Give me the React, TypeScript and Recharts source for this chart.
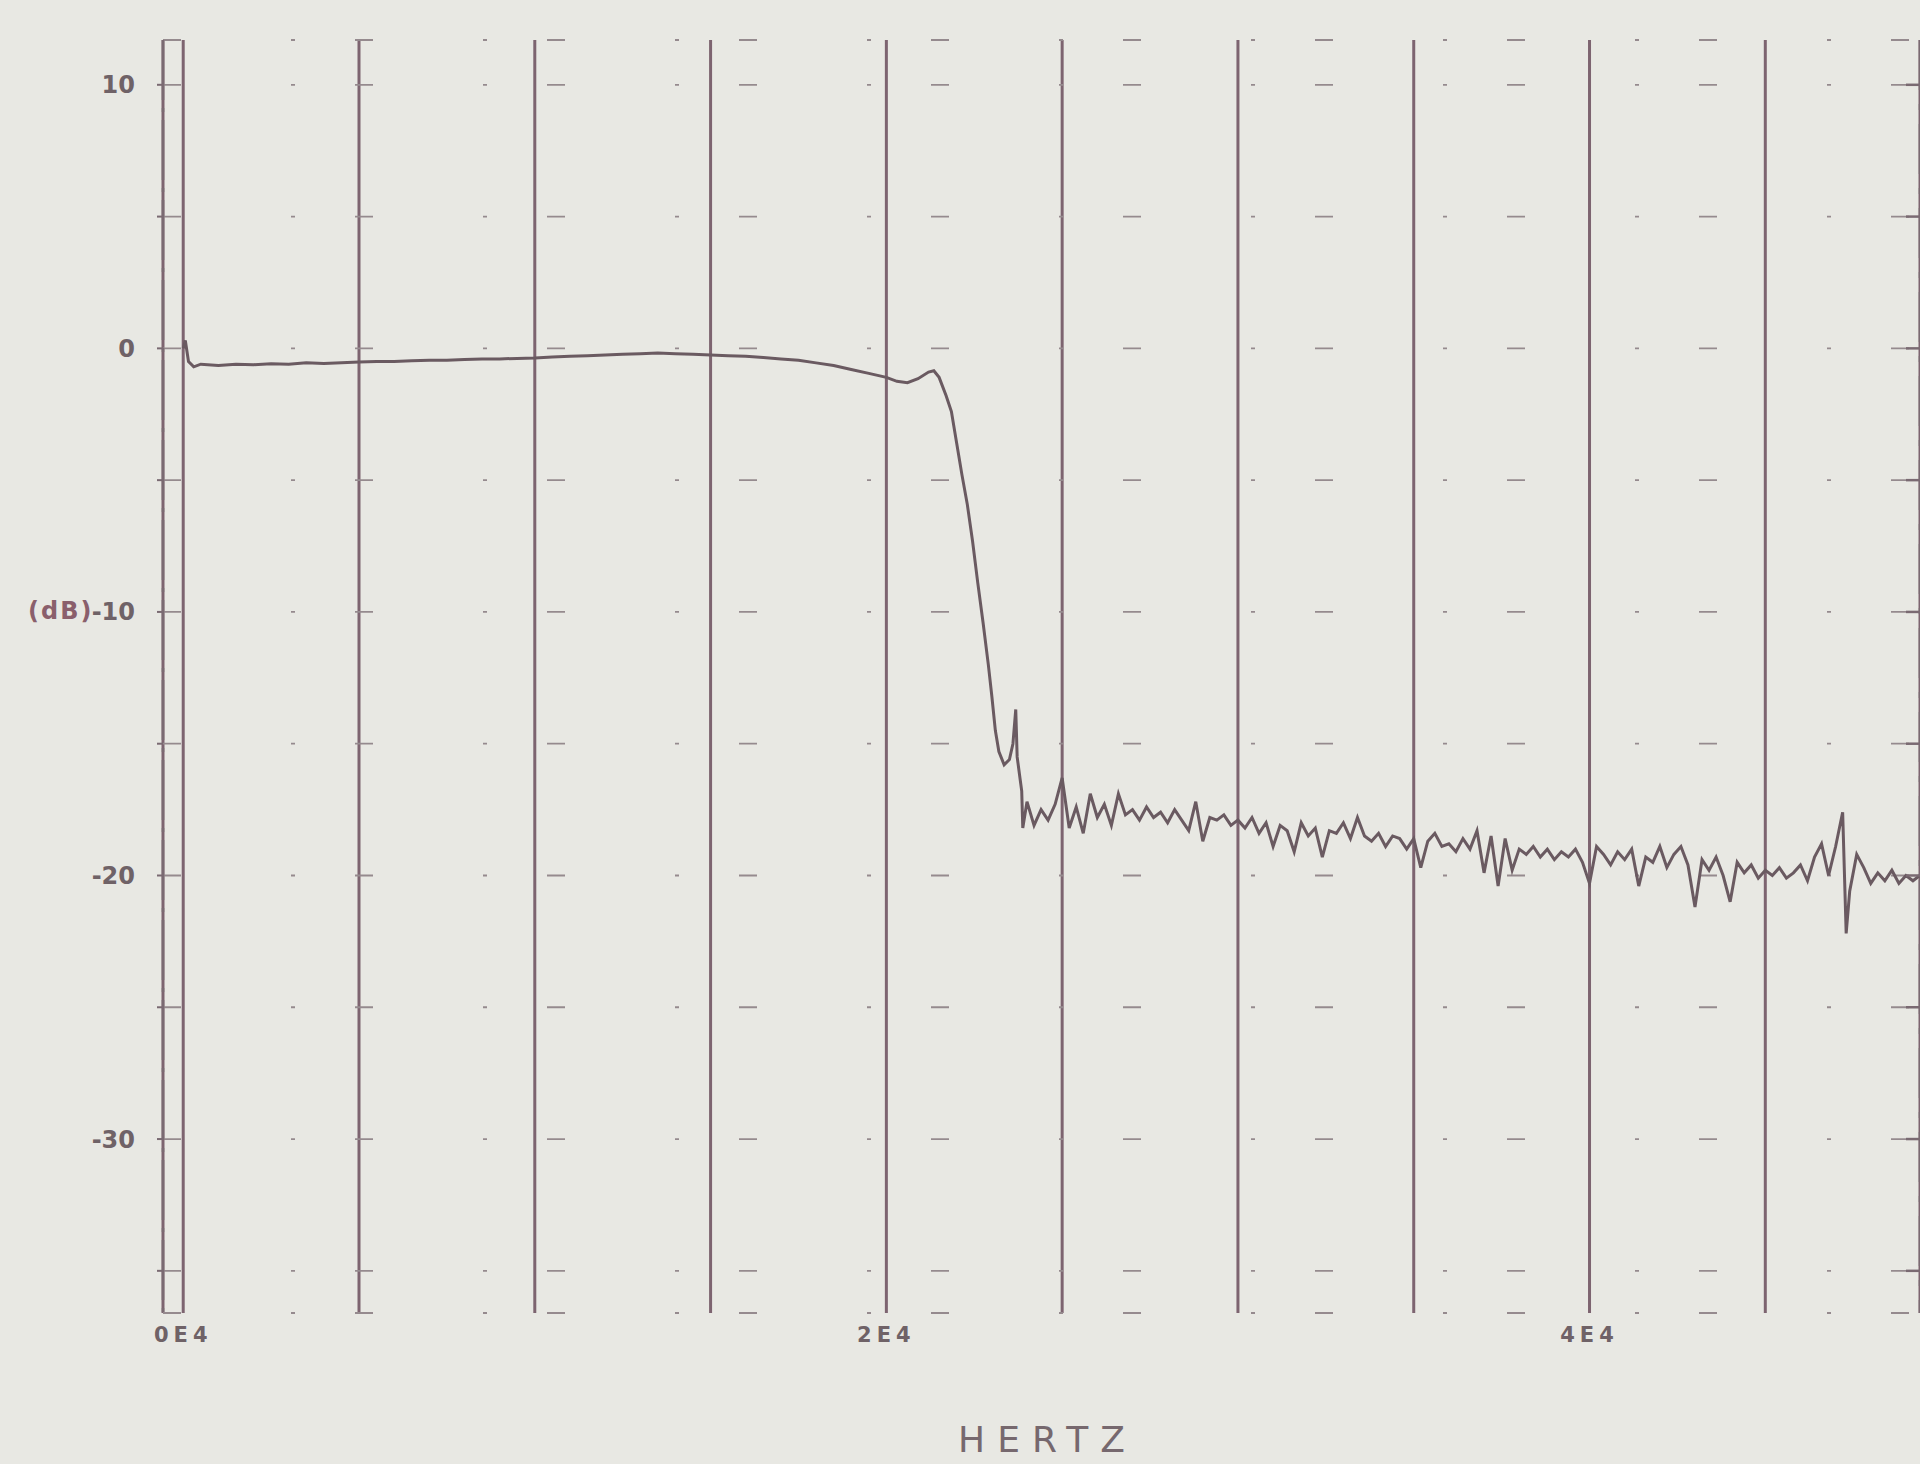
import React from "react";
import { LineChart, Line, XAxis, YAxis, CartesianGrid, Label } from "recharts";

// Passband and transition region (Hz, dB)
const passFreq = [
  0, 60, 150, 300, 500, 1000, 1500, 2000, 2500, 3000, 3500, 4000, 4500, 5000, 5500, 6000,
  6500, 7000, 7500, 8000, 8500, 9000, 9500, 10000, 10500, 11000, 11500, 12000, 12500, 13000,
  13500, 14000, 14500, 15000, 15500, 16000, 16500, 17000, 17500, 18000, 18500, 19000, 19500,
  20000, 20300, 20600, 20900, 21200, 21350, 21500, 21700, 21850, 22000, 22150, 22300, 22450,
  22600, 22750, 22900, 23000, 23100, 23200, 23350, 23500, 23600, 23680, 23720, 23800, 23850,
  23880,
];
const passDb = [
  0.0, 0.3, -0.5, -0.7, -0.6, -0.65, -0.6, -0.62, -0.58, -0.6, -0.55, -0.57, -0.55, -0.52, -0.5,
  -0.5, -0.47, -0.45, -0.45, -0.42, -0.4, -0.4, -0.38, -0.37, -0.33, -0.3, -0.28, -0.25, -0.22,
  -0.2, -0.18, -0.2, -0.22, -0.25, -0.28, -0.3, -0.35, -0.4, -0.45, -0.55, -0.65, -0.8, -0.95,
  -1.1, -1.25, -1.3, -1.15, -0.9, -0.85, -1.1, -1.8, -2.4, -3.6, -4.8, -5.9, -7.3, -8.9, -10.4,
  -12.0, -13.2, -14.5, -15.3, -15.8, -15.6, -15.0, -13.7, -15.5, -16.3, -16.8, -18.2,
];

// Stopband (noisy) region (Hz, dB)
const stopFreq = [
  24000, 24200, 24400, 24600, 24800, 25000, 25200, 25400, 25600, 25800, 26000, 26200, 26400,
  26600, 26800, 27000, 27200, 27400, 27600, 27800, 28000, 28200, 28400, 28600, 28800, 29000,
  29200, 29400, 29600, 29800, 30000, 30200, 30400, 30600, 30800, 31000, 31200, 31400, 31600,
  31800, 32000, 32200, 32400, 32600, 32800, 33000, 33200, 33400, 33600, 33800, 34000, 34200,
  34400, 34600, 34800, 35000, 35200, 35400, 35600, 35800, 36000, 36200, 36400, 36600, 36800,
  37000, 37200, 37400, 37600, 37800, 38000, 38200, 38400, 38600, 38800, 39000, 39200, 39400,
  39600, 39800, 40000, 40200, 40400, 40600, 40800, 41000, 41200, 41400, 41600, 41800, 42000,
  42200, 42400, 42600, 42800, 43000, 43200, 43400, 43600, 43800, 44000, 44200, 44400, 44600,
  44800, 45000, 45200, 45400, 45600, 45800, 46000, 46200, 46400, 46600, 46800, 47000, 47200,
  47300, 47400, 47600, 47800, 48000, 48200, 48400, 48600, 48800, 49000, 49200, 49400,
];
const stopDb = [
  -17.2, -18.1, -17.5, -17.9, -17.3, -16.3, -18.2, -17.4, -18.4, -16.9, -17.8, -17.3, -18.1,
  -16.9, -17.7, -17.5, -17.9, -17.4, -17.8, -17.6, -18.0, -17.5, -17.9, -18.3, -17.2, -18.7,
  -17.8, -17.9, -17.7, -18.1, -17.9, -18.2, -17.8, -18.4, -18.0, -18.9, -18.1, -18.3, -19.1,
  -18.0, -18.5, -18.2, -19.3, -18.3, -18.4, -18.0, -18.6, -17.8, -18.5, -18.7, -18.4, -18.9,
  -18.5, -18.6, -19.0, -18.6, -19.7, -18.7, -18.4, -18.9, -18.8, -19.1, -18.6, -19.0, -18.3,
  -19.9, -18.5, -20.4, -18.6, -19.8, -19.0, -19.2, -18.9, -19.3, -19.0, -19.4, -19.1, -19.3,
  -19.0, -19.5, -20.3, -18.9, -19.2, -19.6, -19.1, -19.4, -19.0, -20.4, -19.3, -19.5, -18.9,
  -19.7, -19.2, -18.9, -19.6, -21.2, -19.4, -19.8, -19.3, -20.0, -21.0, -19.5, -19.9, -19.6,
  -20.1, -19.8, -20.0, -19.7, -20.1, -19.9, -19.6, -20.2, -19.3, -18.8, -20.0, -18.9, -17.6,
  -22.2, -20.6, -19.2, -19.7, -20.3, -19.9, -20.2, -19.8, -20.3, -20.0, -20.2, -20.0,
];

const xTicks = [0, 5000, 10000, 15000, 20000, 25000, 30000, 35000, 40000, 45000];
const xTickLabels: Record<number, string> = { 0: "0E4", 20000: "2E4", 40000: "4E4" };
const yTicks = [10, 5, 0, -5, -10, -15, -20, -25, -30, -35];
const yTickLabels: Record<number, string> = { 10: "10", 0: "0", "-10": "-10", "-20": "-20", "-30": "-30" };

const data = [
  ...passFreq.map((f, i) => ({ f, db: passDb[i] })),
  ...stopFreq.map((f, i) => ({ f, db: stopDb[i] })),
];

const textColor = "#6f6267";

export default function App() {
  return (
    <div
      style={{
        position: "absolute",
        left: 0,
        top: 0,
        width: 1920,
        height: 1464,
        background: "#e8e8e3",
      }}
    >
      <LineChart
        width={1920}
        height={1464}
        data={data}
        margin={{ top: 40, right: 0, bottom: 0, left: 0 }}
      >
        <CartesianGrid
          yAxisId="left"
          horizontal={false}
          vertical={true}
          stroke="#7d6470"
          strokeWidth={3}
        />
        <CartesianGrid
          yAxisId="left"
          horizontal={true}
          vertical={false}
          stroke="#958a8e"
          strokeWidth={1.8}
          strokeDasharray="18 110 4 60"
        />
        <XAxis
          dataKey="f"
          type="number"
          domain={[-575, 49400]}
          ticks={xTicks}
          allowDataOverflow
          axisLine={false}
          tickLine={false}
          tickSize={6}
          tickMargin={8}
          height={151}
          interval={0}
          tickFormatter={(v: number) => xTickLabels[v] ?? ""}
          tick={{
            fill: textColor,
            fontSize: 21,
            fontWeight: "bold",
            fontFamily: "DejaVu Sans",
            letterSpacing: 5,
          }}
        >
          <Label
            value="HERTZ"
            position="insideBottom"
            offset={12}
            dx={6}
            style={{
              fill: "#76686e",
              fontSize: 36,
              fontFamily: "DejaVu Sans",
              letterSpacing: 12,
            }}
          />
        </XAxis>
        <YAxis
          yAxisId="left"
          type="number"
          domain={[-36.6, 11.7]}
          ticks={yTicks}
          allowDataOverflow
          width={163}
          interval={0}
          axisLine={{ stroke: "#7a6a72", strokeWidth: 2.5, strokeDasharray: "60 8 4 8" }}
          tickLine={{ stroke: "#7a6a72", strokeWidth: 2 }}
          tickSize={6}
          tickMargin={22}
          tickFormatter={(v: number) => yTickLabels[v] ?? ""}
          tick={{
            fill: textColor,
            fontSize: 24,
            fontWeight: "bold",
            fontFamily: "DejaVu Sans",
          }}
        >
          <Label
            value="(dB)"
            position="insideLeft"
            offset={28}
            dy={-66}
            style={{
              fill: "#8a5f6c",
              fontSize: 24,
              fontWeight: "bold",
              fontFamily: "DejaVu Sans",
              letterSpacing: 2,
            }}
          />
        </YAxis>
        <YAxis
          yAxisId="right"
          orientation="right"
          type="number"
          domain={[-36.6, 11.7]}
          ticks={yTicks}
          allowDataOverflow
          width={27}
          mirror
          interval={0}
          axisLine={{ stroke: "#7a6a72", strokeWidth: 2.5, strokeDasharray: "50 14 6 14" }}
          tickLine={{ stroke: "#7a6a72", strokeWidth: 2.5 }}
          tickSize={14}
          tickFormatter={() => ""}
        />
        <Line
          yAxisId="left"
          dataKey="db"
          type="linear"
          stroke="#6a5a61"
          strokeWidth={3}
          dot={false}
          isAnimationActive={false}
        />
      </LineChart>
    </div>
  );
}
